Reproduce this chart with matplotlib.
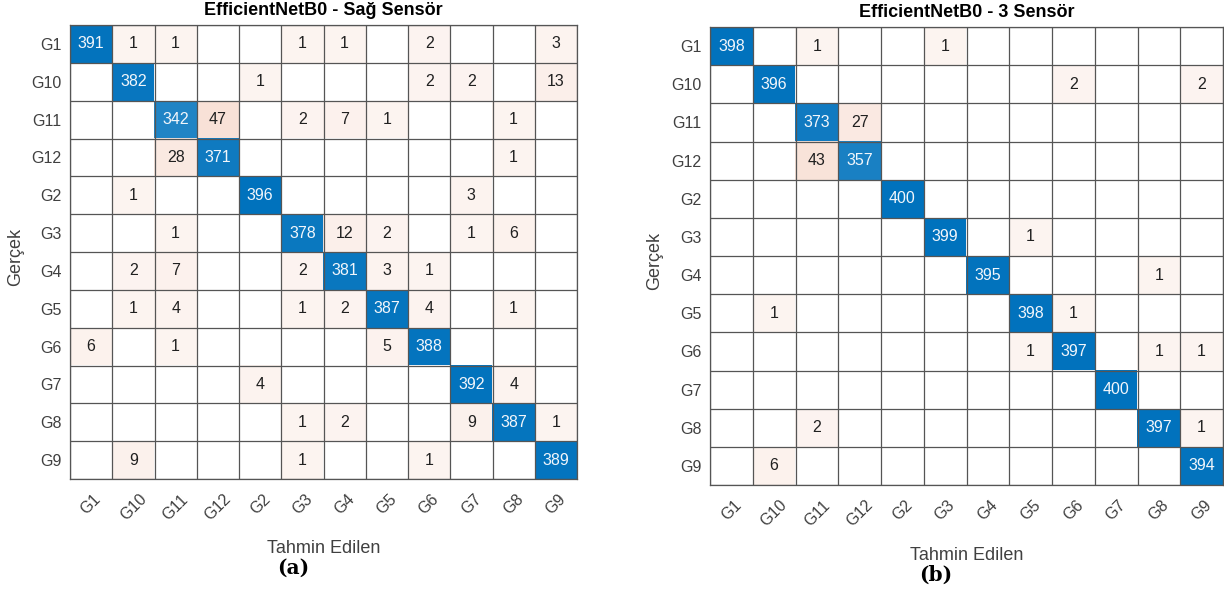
import numpy as np
import matplotlib
matplotlib.use("Agg")
import matplotlib.pyplot as plt

plt.rcParams['font.family'] = ['Liberation Sans', 'DejaVu Sans']

classes = ["G1", "G10", "G11", "G12", "G2", "G3", "G4", "G5", "G6", "G7", "G8", "G9"]

# rows = true class, columns = predicted class (same order as classes)
conf_sag = [
    [391, 1, 1, 0, 0, 1, 1, 0, 2, 0, 0, 3],
    [0, 382, 0, 0, 1, 0, 0, 0, 2, 2, 0, 13],
    [0, 0, 342, 47, 0, 2, 7, 1, 0, 0, 1, 0],
    [0, 0, 28, 371, 0, 0, 0, 0, 0, 0, 1, 0],
    [0, 1, 0, 0, 396, 0, 0, 0, 0, 3, 0, 0],
    [0, 0, 1, 0, 0, 378, 12, 2, 0, 1, 6, 0],
    [0, 2, 7, 0, 0, 2, 381, 3, 1, 0, 0, 0],
    [0, 1, 4, 0, 0, 1, 2, 387, 4, 0, 1, 0],
    [6, 0, 1, 0, 0, 0, 0, 5, 388, 0, 0, 0],
    [0, 0, 0, 0, 4, 0, 0, 0, 0, 392, 4, 0],
    [0, 0, 0, 0, 0, 1, 2, 0, 0, 9, 387, 1],
    [0, 9, 0, 0, 0, 1, 0, 0, 1, 0, 0, 389],
]

conf_3 = [
    [398, 0, 1, 0, 0, 1, 0, 0, 0, 0, 0, 0],
    [0, 396, 0, 0, 0, 0, 0, 0, 2, 0, 0, 2],
    [0, 0, 373, 27, 0, 0, 0, 0, 0, 0, 0, 0],
    [0, 0, 43, 357, 0, 0, 0, 0, 0, 0, 0, 0],
    [0, 0, 0, 0, 400, 0, 0, 0, 0, 0, 0, 0],
    [0, 0, 0, 0, 0, 399, 0, 1, 0, 0, 0, 0],
    [0, 0, 0, 0, 0, 0, 395, 0, 0, 0, 1, 0],
    [0, 1, 0, 0, 0, 0, 0, 398, 1, 0, 0, 0],
    [0, 0, 0, 0, 0, 0, 0, 1, 397, 0, 1, 1],
    [0, 0, 0, 0, 0, 0, 0, 0, 0, 400, 0, 0],
    [0, 0, 2, 0, 0, 0, 0, 0, 0, 0, 397, 1],
    [0, 6, 0, 0, 0, 0, 0, 0, 0, 0, 0, 394],
]

blue = np.array([0, 114, 189]) / 255.0
orange = np.array([217, 83, 25]) / 255.0


def plot_conf(ax, cm, title):
    cm = np.array(cm)
    n = len(classes)
    vmax = cm.max()
    rgb = np.ones((n, n, 3))
    for i in range(n):
        for j in range(n):
            v = cm[i, j]
            if v == 0:
                continue
            a = 0.06 + 0.94 * v / vmax
            c = blue if i == j else orange
            rgb[i, j] = (1 - a) + a * c
    ax.imshow(rgb, aspect='auto', interpolation='nearest',
              extent=(-0.5, n - 0.5, n - 0.5, -0.5))
    for i in range(n):
        for j in range(n):
            v = cm[i, j]
            if v == 0:
                continue
            col = '#f2f6fb' if i == j else '#202020'
            ax.text(j, i, str(v), ha='center', va='center', fontsize=11.5, color=col)

    # cell borders
    for k in range(n + 1):
        ax.axhline(k - 0.5, color='#555555', lw=0.9)
        ax.axvline(k - 0.5, color='#555555', lw=0.9)
    for s in ax.spines.values():
        s.set_color('#555555')
        s.set_linewidth(0.9)

    ax.set_xlim(-0.5, n - 0.5)
    ax.set_ylim(n - 0.5, -0.5)
    ax.set_xticks(range(n))
    ax.set_yticks(range(n))
    ax.set_xticklabels(classes, rotation=45, ha='center', fontsize=11.5, color='#404040')
    ax.set_yticklabels(classes, fontsize=11.5, color='#404040')
    ax.tick_params(axis='both', length=0)
    ax.tick_params(axis='x', pad=9)
    ax.tick_params(axis='y', pad=6)
    ax.set_title(title, fontsize=13, fontweight='bold', pad=7)
    ax.set_xlabel("Tahmin Edilen", fontsize=13, color='#404040')
    ax.set_ylabel("Gerçek", fontsize=13, color='#404040')
    ax.xaxis.set_label_coords(0.5, -61 / 454)
    ax.yaxis.set_label_coords(-46 / 507, 0.49)


fig = plt.figure(figsize=(12.24, 5.93), dpi=100)
ax1 = fig.add_axes([70 / 1224, 114 / 593, 507 / 1224, 454 / 593])
ax2 = fig.add_axes([710 / 1224, 108 / 593, 513 / 1224, 458 / 593])

plot_conf(ax1, conf_sag, "EfficientNetB0 - Sağ Sensör")
plot_conf(ax2, conf_3, "EfficientNetB0 - 3 Sensör")

fig.text(293 / 1224, 1 - 568 / 593, "(a)", ha='center', va='center',
         fontsize=14.5, fontweight='bold', family='DejaVu Serif')
fig.text(936 / 1224, 1 - 575 / 593, "(b)", ha='center', va='center',
         fontsize=14.5, fontweight='bold', family='DejaVu Serif')

fig.savefig("out.png", dpi=100)
